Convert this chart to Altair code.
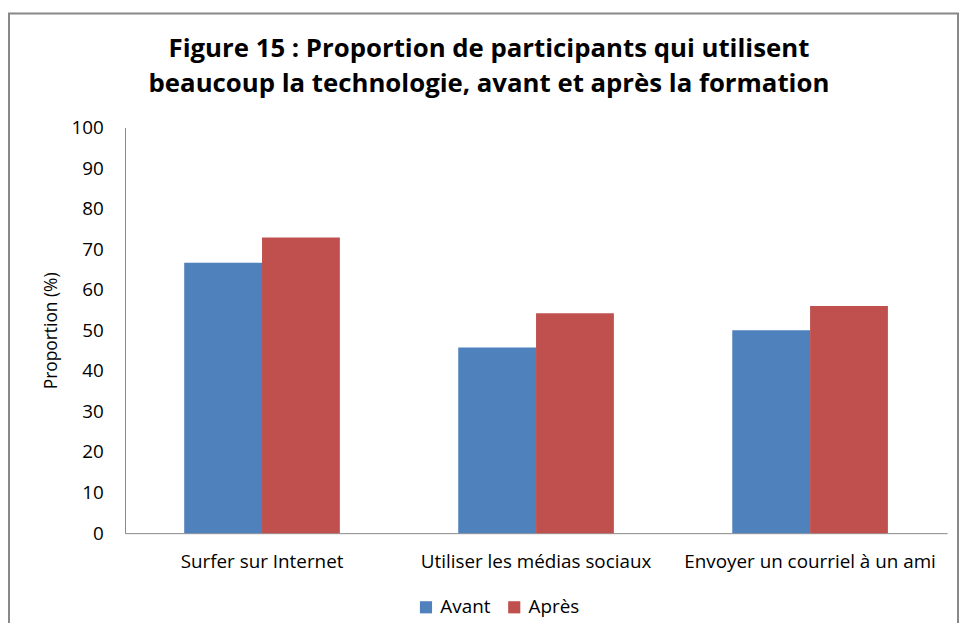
import altair as alt
import pandas as pd

categories = ["Surfer sur Internet", "Utiliser les médias sociaux", "Envoyer un courriel à un ami"]
series = ["Avant", "Après"]
avant = [66.7, 45.8, 50.0]
apres = [72.9, 54.2, 56.0]
colors = ["#4F81BD", "#C0504D"]
title_lines = ["Figure 15 : Proportion de participants qui utilisent",
               "beaucoup la technologie, avant et après la formation"]

rows = []
for c, a, b in zip(categories, avant, apres):
    rows.append({"cat": c, "serie": "Avant", "val": a})
    rows.append({"cat": c, "serie": "Après", "val": b})
df = pd.DataFrame(rows)

W, H = 829, 409
FONT = "Open Sans"
LS = 19

bars = alt.Chart(df).mark_bar().encode(
    x=alt.X("cat:N", sort=categories, title=None,
            scale=alt.Scale(paddingInner=0.432, paddingOuter=0.216),
            axis=alt.Axis(labelAngle=0, ticks=False, labelPadding=20, labelFontSize=LS,
                          labelFont=FONT, labelColor="#000000", domainColor="#888888",
                          domainWidth=1, labelLimit=0)),
    xOffset=alt.XOffset("serie:N", sort=series, scale=alt.Scale(paddingInner=0, paddingOuter=0)),
    y=alt.Y("val:Q", title="Proportion (%)",
            scale=alt.Scale(domain=[0, 100]),
            axis=alt.Axis(values=list(range(0, 101, 10)), ticks=False, grid=False,
                          labelPadding=22, labelFontSize=LS, labelFont=FONT,
                          labelColor="#000000", domainColor="#888888",
                          titleFont=FONT, titleFontSize=17.5, titleFontWeight="normal",
                          titleColor="#000000", titlePadding=10)),
    color=alt.Color("serie:N", sort=series,
                    scale=alt.Scale(domain=series, range=colors),
                    legend=alt.Legend(title=None, orient="none", direction="horizontal",
                                      legendX=294, legendY=474, symbolType="square",
                                      symbolSize=150, symbolStrokeWidth=0,
                                      labelFont=FONT, labelFontSize=LS, labelColor="#000000",
                                      columnPadding=14, labelOffset=5)),
)

frame = alt.Chart(pd.DataFrame({"k": [0]})).mark_rect(
    fill=None, stroke="#888888", strokeWidth=2
).encode(
    x=alt.value(-117), x2=alt.value(840), y=alt.value(-115), y2=alt.value(520)
)

t1 = alt.Chart(pd.DataFrame({"t": [title_lines[0]]})).mark_text(
    font=FONT, fontSize=26, fontWeight="bold", color="#000000", baseline="middle", align="center"
).encode(text="t:N", x=alt.value(367), y=alt.value(-79))
t2 = alt.Chart(pd.DataFrame({"t": [title_lines[1]]})).mark_text(
    font=FONT, fontSize=26, fontWeight="bold", color="#000000", baseline="middle", align="center"
).encode(text="t:N", x=alt.value(367), y=alt.value(-44))

chart = alt.layer(frame, bars, t1, t2).properties(
    width=W, height=H,
    autosize=alt.AutoSizeParams(type="none"),
    padding={"left": 118, "top": 118, "right": 12, "bottom": 88},
).configure_view(stroke=None)

chart.save("out.html", embed_options={"renderer": "svg", "actions": False})
